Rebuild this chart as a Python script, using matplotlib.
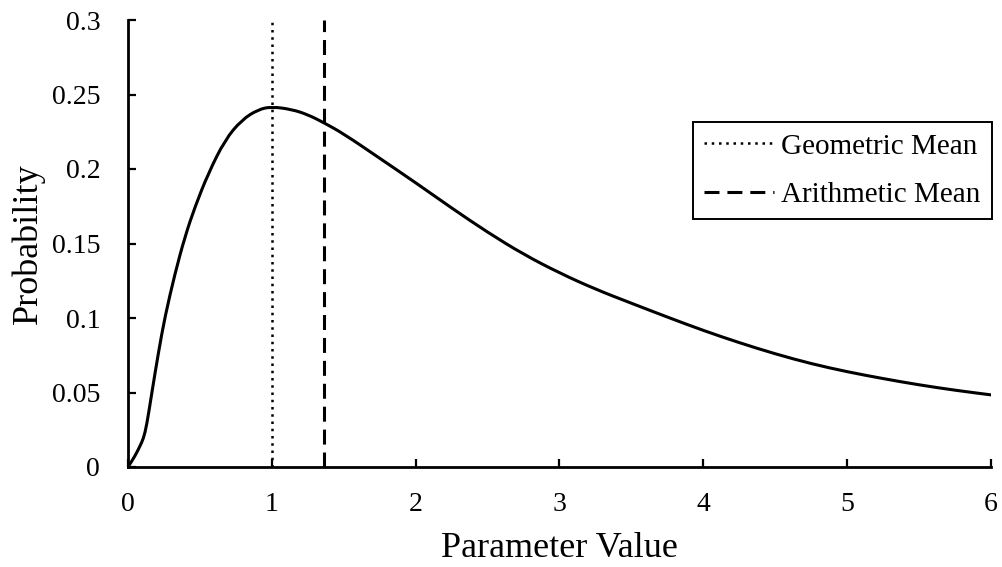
import matplotlib.pyplot as plt
from matplotlib.path import Path
from matplotlib.patches import PathPatch

plt.rcParams["font.family"] = ["Liberation Serif", "DejaVu Serif"]

# probability curve, read point by point
param = [0.0, 0.049, 0.083, 0.107, 0.130, 0.165, 0.211, 0.257, 0.327, 0.396,
         0.466, 0.558, 0.674, 0.790, 0.906, 1.000, 1.138, 1.250, 1.363, 1.500,
         1.750, 2.000, 2.250, 2.500, 2.750, 3.000, 3.250, 3.500, 3.750, 4.000,
         4.250, 4.500, 4.750, 5.000, 5.250, 5.500, 5.750, 6.000]
prob = [0.0, 0.0074, 0.014, 0.019, 0.028, 0.0494, 0.0765, 0.1009, 0.130, 0.1546,
        0.1747, 0.197, 0.2195, 0.2329, 0.240, 0.2418, 0.240, 0.2365, 0.231, 0.2236,
        0.2072, 0.1908, 0.1738, 0.1575, 0.1427, 0.1302, 0.1193, 0.1099, 0.1006, 0.0916,
        0.0834, 0.0759, 0.0693, 0.0639, 0.0593, 0.0551, 0.0515, 0.0484]

geo_mean = 1.0
arith_mean = 1.363

x_ticks = [0, 1, 2, 3, 4, 5, 6]
y_ticks = [0, 0.05, 0.1, 0.15, 0.2, 0.25, 0.3]
y_tick_labels = ["0", "0.05", "0.1", "0.15", "0.2", "0.25", "0.3"]


def smooth_path(xs, ys):
    """Quadratic Bezier path using the points as control points,
    passing through the midpoints between them."""
    pts = list(zip(xs, ys))
    mid = lambda a, b: ((a[0] + b[0]) / 2, (a[1] + b[1]) / 2)
    verts = [pts[0], mid(pts[0], pts[1])]
    codes = [Path.MOVETO, Path.LINETO]
    for i in range(1, len(pts) - 1):
        verts += [pts[i], mid(pts[i], pts[i + 1])]
        codes += [Path.CURVE3, Path.CURVE3]
    verts.append(pts[-1])
    codes.append(Path.LINETO)
    return Path(verts, codes)


fig = plt.figure(figsize=(10.03, 5.67), dpi=100)
ax = fig.add_axes([128 / 1003, 1 - 467 / 567, (991 - 128) / 1003, (467 - 20) / 567])

curve = PathPatch(smooth_path(param, prob), facecolor="none", edgecolor="black",
                  lw=2.2, capstyle="round", joinstyle="round", zorder=3)
ax.add_patch(curve)
ax.axvline(geo_mean, color="black", lw=1.8, linestyle=(0, (1, 1.9)),
           label="Geometric Mean")
ax.axvline(arith_mean, color="black", lw=2.2, linestyle=(0, (4.9, 2.6)),
           label="Arithmetic Mean")

ax.set_xlim(0, 6)
ax.set_ylim(0, 0.3)
ax.set_xticks(x_ticks)
ax.set_xticklabels([str(t) for t in x_ticks])
ax.set_yticks(y_ticks)
ax.set_yticklabels(y_tick_labels)

for side in ("top", "right"):
    ax.spines[side].set_visible(False)
for side in ("left", "bottom"):
    ax.spines[side].set_linewidth(2.0)
ax.tick_params(direction="in", length=6, width=1.6, labelsize=20, pad=18)
ax.tick_params(axis="y", pad=20)

ax.set_xlabel("Parameter Value", fontsize=26, labelpad=11)
ax.set_ylabel("Probability", fontsize=26, labelpad=5)

leg = ax.legend(loc="upper left", bbox_to_anchor=(693 / 1003, 1 - 122 / 567),
                bbox_transform=fig.transFigure, fontsize=21, frameon=True,
                fancybox=False, edgecolor="black", framealpha=1,
                handlelength=2.4, handletextpad=0.25, labelspacing=0.76,
                borderpad=0.38, borderaxespad=0)
leg.get_frame().set_linewidth(1.4)

fig.savefig("out.png", dpi=100)
